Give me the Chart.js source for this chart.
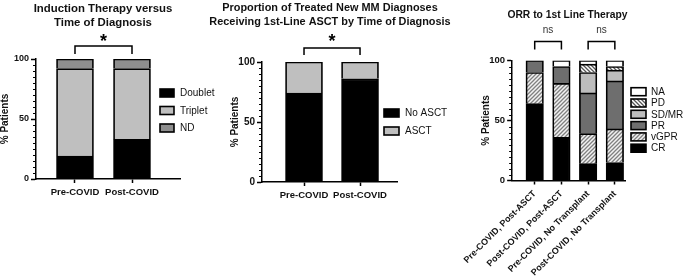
<!DOCTYPE html>
<html>
<head>
<meta charset="utf-8">
<script src="https://cdn.jsdelivr.net/npm/chart.js@4.4.1/dist/chart.umd.min.js"></script>
<style>
  html, body { margin: 0; padding: 0; background: #fff; }
  #wrap { position: relative; width: 685px; height: 279px; overflow: hidden; }
  #wrap canvas { position: absolute; top: 0; }
</style>
</head>
<body>
<div id="wrap">
  <canvas id="induction" width="226" height="279" style="left:-10px"></canvas>
  <canvas id="asct" width="250" height="279" style="left:205px"></canvas>
  <canvas id="orr" width="235" height="279" style="left:450px"></canvas>
</div>
<script>
// --- data (percent of patients) ---
const periods = ['Pre-COVID', 'Post-COVID']
const doublet = [19, 33]
const triplet = [73, 59]
const notDone = [8, 8]

const noAsct = [74, 86]
const asct = [26, 14]

const orrGroups = ['Pre-COVID, Post-ASCT', 'Post-COVID, Post-ASCT', 'Pre-COVID, No Transplant', 'Post-COVID, No Transplant']
const cr = [64, 36, 14, 15]
const vgpr = [26, 45, 25, 28]
const pr = [10, 14, 34, 40]
const sdmr = [0, 0, 17, 9]
const pd = [0, 0, 7, 3]
const na = [0, 5, 3, 5]

const yTicks = [0, 50, 100]

const FONT = '"Liberation Sans", Arial, sans-serif'
Chart.defaults.font.family = FONT
Chart.defaults.color = '#000'

// diagonal hatch fill for the striped categories
function hatch(bg, fg, forward) {
  const tile = document.createElement('canvas')
  tile.width = tile.height = 4
  const g = tile.getContext('2d')
  g.fillStyle = bg
  g.fillRect(0, 0, 4, 4)
  g.strokeStyle = fg
  g.lineWidth = 1.3
  g.beginPath()
  if (forward) {
    g.moveTo(0, 4); g.lineTo(4, 0)
    g.moveTo(-1, 1); g.lineTo(1, -1)
    g.moveTo(3, 5); g.lineTo(5, 3)
  } else {
    g.moveTo(0, 0); g.lineTo(4, 4)
    g.moveTo(-1, 3); g.lineTo(1, 5)
    g.moveTo(3, -1); g.lineTo(5, 1)
  }
  g.stroke()
  return g.createPattern(tile, 'repeat')
}

const pts = arr => arr.map((v, i) => ({ x: i, y: v }))

// legend drawn at the side of the plot, overlapping the x-axis extent like the original
const sideLegend = {
  id: 'sideLegend',
  afterDraw(chart, args, opts) {
    const { ctx } = chart
    const sets = chart.data.datasets.slice()
    if (opts.reverse) sets.reverse()
    ctx.save()
    ctx.font = opts.font
    ctx.textBaseline = 'middle'
    ctx.textAlign = 'left'
    sets.forEach((ds, i) => {
      const cy = opts.y + i * opts.gap
      ctx.fillStyle = ds.backgroundColor
      ctx.fillRect(opts.x, cy - opts.boxH / 2, opts.boxW, opts.boxH)
      ctx.strokeStyle = '#000'
      ctx.lineWidth = 1.6
      ctx.strokeRect(opts.x, cy - opts.boxH / 2, opts.boxW, opts.boxH)
      ctx.fillStyle = '#111'
      ctx.fillText(ds.label, opts.x + opts.boxW + opts.textGap, cy + 0.5)
    })
    ctx.restore()
  }
}

// significance brackets above the bars
const brackets = {
  id: 'brackets',
  afterDraw(chart, args, opts) {
    const { ctx, chartArea } = chart
    const x = chart.scales.x
    ctx.save()
    ctx.strokeStyle = '#000'
    ctx.lineWidth = 1.5
    opts.items.forEach(it => {
      const x1 = x.getPixelForValue(it.from)
      const x2 = x.getPixelForValue(it.to)
      const yTop = chartArea.top - opts.rise
      ctx.beginPath()
      ctx.moveTo(x1, yTop + opts.drop)
      ctx.lineTo(x1, yTop)
      ctx.lineTo(x2, yTop)
      ctx.lineTo(x2, yTop + opts.drop)
      ctx.stroke()
      ctx.font = opts.font
      ctx.fillStyle = opts.color
      ctx.textAlign = 'center'
      ctx.textBaseline = 'middle'
      ctx.fillText(it.text, (x1 + x2) / 2, chartArea.top - opts.textRise)
    })
    ctx.restore()
  }
}

// short minor ticks every 5% on the y axis
const minorTicks = {
  id: 'minorTicks',
  afterDraw(chart, args, opts) {
    const y = chart.scales.y
    const ctx = chart.ctx
    ctx.save()
    ctx.strokeStyle = '#000'
    ctx.lineWidth = 1
    for (let v = y.min; v <= y.max; v += opts.step) {
      if (yTicks.includes(v)) continue
      const py = Math.round(y.getPixelForValue(v)) + 0.5
      ctx.beginPath()
      ctx.moveTo(y.right - opts.length, py)
      ctx.lineTo(y.right, py)
      ctx.stroke()
    }
    ctx.restore()
  }
}

function stackedChart(id, cfg) {
  const { labels, datasets, title, titleFont, titlePad, xRange, xHeight, barThickness,
    yWidth, rightGap, yTitlePad, tickFont, xTickFont, rotation, legend, bracket } = cfg
  return new Chart(document.getElementById(id), {
    type: 'bar',
    data: {
      datasets: datasets.map(d => ({
        label: d.label,
        data: pts(d.data),
        backgroundColor: d.color,
        borderColor: '#000',
        borderWidth: 1.7,
        barThickness,
      })),
    },
    plugins: [sideLegend, brackets, minorTicks],
    options: {
      responsive: false,
      animation: false,
      devicePixelRatio: 1,
      layout: { padding: 0 },
      plugins: {
        legend: { display: false },
        tooltip: { enabled: false },
        title: {
          display: true,
          text: title,
          font: { size: titleFont, weight: 'bold', lineHeight: 14 / titleFont },
          padding: titlePad,
          color: '#111',
        },
        sideLegend: legend,
        brackets: bracket,
        minorTicks: { step: 5, length: 3 },
      },
      scales: {
        x: {
          type: 'linear',
          stacked: true,
          offset: false,
          min: xRange[0],
          max: xRange[1],
          afterBuildTicks: axis => { axis.ticks = labels.map((_, i) => ({ value: i })) },
          afterFit: s => { s.height = xHeight },
          grid: { offset: false, drawOnChartArea: false, drawTicks: true, tickLength: 4, color: '#000', tickWidth: 1.5 },
          border: { display: true, color: '#000', width: 1.5 },
          ticks: {
            autoSkip: false,
            includeBounds: false,
            padding: 4,
            minRotation: rotation,
            maxRotation: rotation,
            font: { size: xTickFont, weight: 'bold' },
            color: '#111',
            callback: v => labels[v] ?? '',
          },
        },
        y: {
          stacked: true,
          min: 0,
          max: 100,
          afterBuildTicks: axis => { axis.ticks = yTicks.map(v => ({ value: v })) },
          afterFit: s => { s.width = yWidth },
          grid: { drawOnChartArea: false, drawTicks: true, tickLength: 5, color: '#000', tickWidth: 1.5 },
          border: { display: true, color: '#000', width: 1.5 },
          ticks: { padding: 2, font: { size: tickFont, weight: 'bold' }, color: '#111' },
          title: {
            display: true,
            text: '% Patients',
            font: { size: 10, weight: 'bold' },
            padding: { top: yTitlePad, bottom: 0 },
            color: '#111',
          },
        },
        // empty right-hand axis that only reserves room for the legend
        gap: {
          position: 'right',
          afterFit: s => { s.width = rightGap },
          grid: { display: false },
          border: { display: false },
          ticks: { display: false },
        },
      },
    },
  })
}

stackedChart('induction', {
  labels: periods,
  datasets: [
    { label: 'Doublet', data: doublet, color: '#000000' },
    { label: 'Triplet', data: triplet, color: '#bfbfbf' },
    { label: 'ND', data: notDone, color: '#8e8e8e' },
  ],
  title: ['Induction Therapy versus', 'Time of Diagnosis'],
  titleFont: 11.4,
  titlePad: { top: 1.5, bottom: 29.5 },
  xRange: [-0.684, 1.842],
  xHeight: 100,
  barThickness: 37,
  yWidth: 46,
  rightGap: 36,
  yTitlePad: 9.5,
  tickFont: 9,
  xTickFont: 9.5,
  rotation: 0,
  legend: { x: 170, y: 93, gap: 17.5, boxW: 14, boxH: 8, textGap: 6, font: `10px ${FONT}`, reverse: false },
  bracket: { items: [{ from: 0, to: 1, text: '*' }], rise: 13, drop: 8, textRise: 17, font: `bold 18px ${FONT}`, color: '#000' },
})

stackedChart('asct', {
  labels: periods,
  datasets: [
    { label: 'No ASCT', data: noAsct, color: '#000000' },
    { label: 'ASCT', data: asct, color: '#bfbfbf' },
  ],
  title: ['Proportion of Treated New MM Diagnoses', 'Receiving 1st-Line ASCT by Time of Diagnosis'],
  titleFont: 10.9,
  titlePad: { top: 0.5, bottom: 33.5 },
  xRange: [-0.75, 1.66],
  xHeight: 97,
  barThickness: 37,
  yWidth: 57,
  rightGap: 58,
  yTitlePad: 24,
  tickFont: 10,
  xTickFont: 9.5,
  rotation: 0,
  legend: { x: 179, y: 113, gap: 18, boxW: 15, boxH: 8, textGap: 6, font: `10px ${FONT}`, reverse: false },
  bracket: { items: [{ from: 0, to: 1, text: '*' }], rise: 14, drop: 7, textRise: 20, font: `bold 18px ${FONT}`, color: '#000' },
})

stackedChart('orr', {
  labels: orrGroups,
  datasets: [
    { label: 'CR', data: cr, color: '#000000' },
    { label: 'vGPR', data: vgpr, color: hatch('#f2f2f2', '#808080', true) },
    { label: 'PR', data: pr, color: '#6e6e6e' },
    { label: 'SD/MR', data: sdmr, color: '#bdbdbd' },
    { label: 'PD', data: pd, color: hatch('#ffffff', '#555555', false) },
    { label: 'NA', data: na, color: '#ffffff' },
  ],
  title: 'ORR to 1st Line Therapy',
  titleFont: 10.3,
  titlePad: { top: 8.5, bottom: 38 },
  xRange: [-0.845, 3.38],
  xHeight: 98.5,
  barThickness: 17.5,
  yWidth: 57,
  rightGap: 60,
  yTitlePad: 25,
  tickFont: 9.5,
  xTickFont: 9,
  rotation: 45,
  legend: { x: 181, y: 91.7, gap: 11.3, boxW: 15, boxH: 8, textGap: 5, font: `10px ${FONT}`, reverse: true },
  bracket: { items: [{ from: 0, to: 1, text: 'ns' }, { from: 2, to: 3, text: 'ns' }], rise: 19, drop: 8, textRise: 30, font: `10px ${FONT}`, color: '#333' },
})
</script>
</body>
</html>
